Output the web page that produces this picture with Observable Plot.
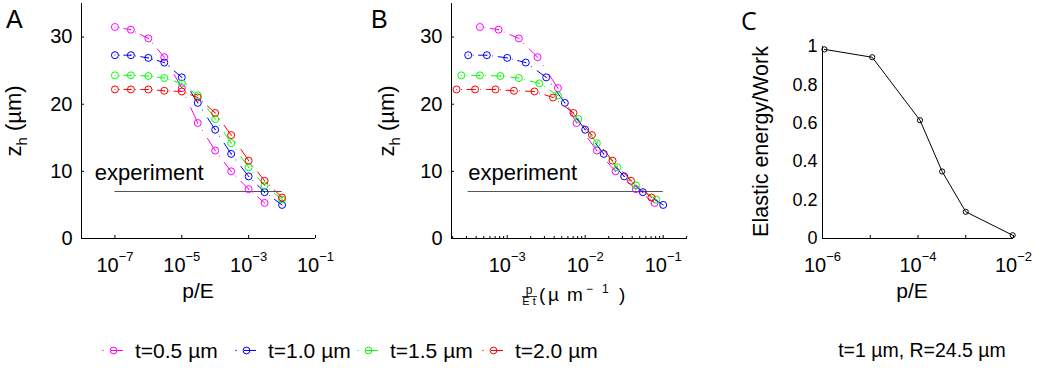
<!DOCTYPE html>
<html><head><meta charset="utf-8">
<script src="https://cdn.jsdelivr.net/npm/d3@7"></script>
<script src="https://cdn.jsdelivr.net/npm/@observablehq/plot@0.6"></script>
<style>
html,body{margin:0;padding:0;background:#fff;}
#root{position:relative;width:1043px;height:369px;overflow:hidden;font-family:"Liberation Sans",Arial,Helvetica,sans-serif;color:#000;background:#fff;}
.panel{position:absolute;top:0;}
</style></head><body><div id="root"></div>
<script>
// ---------------- data ----------------
const seriesLabels = ["t=0.5 µm", "t=1.0 µm", "t=1.5 µm", "t=2.0 µm"];
const seriesColors = ["#ff00ff", "#0000ff", "#00ff00", "#ff0000"];

// Panel A: p/E
const pOverE = [1e-7, 3e-7, 1e-6, 3e-6, 1e-5, 3e-5, 1e-4, 3e-4, 1e-3, 3e-3, 1e-2];
// z_h (µm) per thickness
const zh_t05 = [31.5, 31.1, 29.8, 27.0, 22.4, 17.2, 13.1, 10.0, 7.35, 5.3];
const zh_t10 = [27.3, 27.3, 26.9, 26.2, 24.0, 20.2, 16.2, 12.6, 9.25, 6.9, 5.0];
const zh_t15 = [24.3, 24.3, 24.2, 23.9, 23.1, 21.3, 17.8, 14.2, 10.6, 7.9, 5.8];
const zh_t20 = [22.2, 22.2, 22.2, 22.0, 21.9, 21.0, 18.7, 15.4, 11.6, 8.6, 6.1];

// Panel B: rescaled abscissa per thickness
const xB_t05 = [4.47e-4, 7.75e-4, 1.41e-3, 2.45e-3, 4.47e-3, 7.75e-3, 1.41e-2, 2.45e-2, 4.47e-2, 7.75e-2];
const xB_t10 = [3.16e-4, 5.48e-4, 1.0e-3, 1.73e-3, 3.16e-3, 5.48e-3, 1.0e-2, 1.73e-2, 3.16e-2, 5.48e-2, 1.0e-1];
const xB_t15 = [2.58e-4, 4.47e-4, 8.16e-4, 1.41e-3, 2.58e-3, 4.47e-3, 8.16e-3, 1.41e-2, 2.58e-2, 4.47e-2, 8.16e-2];
const xB_t20 = [2.24e-4, 3.87e-4, 7.07e-4, 1.22e-3, 2.24e-3, 3.87e-3, 7.07e-3, 1.22e-2, 2.24e-2, 3.87e-2, 7.07e-2];

// experiment level
const experimentZ = [7];
const experimentRangeA = [1e-7, 1e-2];
const experimentRangeB = [3.16e-4, 1e-1];

// Panel C
const pOverE_C = [1.1e-6, 1.1e-5, 1.1e-4, 3.2e-4, 1.0e-3, 9.6e-3];
const energyRatio = [0.985, 0.944, 0.616, 0.349, 0.139, 0.017];

// axes / ticks
const yDomainAB = [0, 35];
const yTicksAB = [0, 10, 20, 30];
const xDomainA = [1e-8, 1e-1];
const xTicksA = [1e-7, 1e-5, 1e-3, 1e-1];
const xDomainB = [1.93e-4, 2.05e-1];
const xTicksB = [1e-3, 1e-2, 1e-1];
const xDomainC = [1e-6, 1e-2];
const xTicksC = [1e-6, 1e-5, 1e-4, 1e-3, 1e-2];
const xTickLabelsC = [1e-6, 1e-4, 1e-2];
const yDomainC = [0, 1];
const yTicksC = [0, 0.2, 0.4, 0.6, 0.8, 1];
const captionText = "t=1 µm, R=24.5 µm";

// ---------------- helpers ----------------
const FONT = '"Liberation Sans", Arial, Helvetica, sans-serif';
const TICK_FS = 20;
const root = document.getElementById("root");

function pts(xs, ys) { return ys.map((y, i) => ({x: xs[i], y})); }
function segs(p) { return p.slice(1).map((q, i) => ({x1: p[i].x, y1: p[i].y, x2: q.x, y2: q.y})); }

const seriesA = [zh_t05, zh_t10, zh_t15, zh_t20].map(ys => pts(pOverE, ys));
const seriesB = [[xB_t05, zh_t05], [xB_t10, zh_t10], [xB_t15, zh_t15], [xB_t20, zh_t20]].map(([xs, ys]) => pts(xs, ys));

function supFormat(d) { return "10^" + Math.round(Math.log10(d)); }

function applySup(svg) {
  d3.select(svg).selectAll("text").each(function () {
    const m = /^10\^(-?\d+)$/.exec(this.textContent);
    if (!m) return;
    const el = d3.select(this);
    el.text(null);
    el.append("tspan").text("10");
    el.append("tspan").attr("dy", -11).attr("font-size", 13).text(m[1].replace("-", "\u2212"));
  });
}

function dashLinks(svg) {
  d3.select(svg).selectAll('g[aria-label="link"] path, g[aria-label="link"] line')
    .attr("pathLength", 100)
    .attr("stroke-dasharray", "0 27 0 29 44")
    .attr("stroke-linecap", "round");
}

function addText(svg, {x, y, text, size = 20, anchor = "start", rotate = 0, family = FONT}) {
  const t = d3.select(svg).append("text")
    .attr("transform", `translate(${x},${y})` + (rotate ? ` rotate(${rotate})` : ""))
    .attr("text-anchor", anchor)
    .attr("font-family", family)
    .attr("font-size", size)
    .attr("fill", "#000");
  if (text != null) t.text(text);
  return t;
}

function place(svg, left) {
  const div = document.createElement("div");
  div.className = "panel";
  div.style.left = left + "px";
  div.appendChild(svg);
  root.appendChild(div);
}

function zhPanel({width, marginLeft, marginRight, xDomain, xTicks, minorTicks, series, expRange, expTextX}) {
  const marks = [
    Plot.ruleY([yDomainAB[0]], {stroke: "#000", strokeWidth: 1}),
    Plot.ruleX([xDomain[0]], {stroke: "#000", strokeWidth: 1}),
    Plot.axisY({ticks: yTicksAB, tickSize: 3, dx: 3, tickFormat: () => "", label: null}),
    Plot.axisY({ticks: yTicksAB, tickSize: 0, tickPadding: 9, fontSize: TICK_FS, label: null}),
    Plot.axisX({ticks: xTicks, tickSize: 3, dy: -3, tickFormat: () => "", label: null}),
    Plot.axisX({ticks: xTicks, tickSize: 0, tickPadding: 19, fontSize: TICK_FS, tickFormat: supFormat, label: null})
  ];
  if (minorTicks) marks.push(Plot.axisX({ticks: minorTicks, tickSize: 2, dy: -2, tickFormat: () => "", label: null}));
  marks.push(
    Plot.ruleY(experimentZ, {x1: expRange[0], x2: expRange[1], stroke: "#555", strokeWidth: 1.2}),
    Plot.text(["experiment"], {x: expTextX, y: 9.8, text: d => d, textAnchor: "start", lineAnchor: "middle", fontSize: 22, fill: "#000"})
  );
  series.forEach((p, k) => {
    marks.push(Plot.link(segs(p), {x1: "x1", y1: "y1", x2: "x2", y2: "y2", stroke: seriesColors[k], strokeWidth: 1}));
    marks.push(Plot.dot(p, {x: "x", y: "y", r: 3.5, stroke: seriesColors[k], fill: "none", strokeWidth: 1}));
  });
  const svg = Plot.plot({
    width, height: 310,
    marginLeft, marginRight, marginTop: 3, marginBottom: 72,
    x: {type: "log", domain: xDomain},
    y: {domain: yDomainAB},
    style: {fontFamily: FONT, fontSize: TICK_FS + "px", background: "transparent", color: "#000", overflow: "visible"},
    marks
  });
  applySup(svg);
  dashLinks(svg);
  return svg;
}

function zLabel(svg, x, y) {
  const t = addText(svg, {x, y, size: 22, anchor: "middle", rotate: -90});
  t.append("tspan").text("z");
  t.append("tspan").attr("font-size", 15).attr("dy", 6).text("h");
  t.append("tspan").attr("dy", -6).text(" (µm)");
}

// ---------------- Panel A ----------------
const svgA = zhPanel({width: 340, marginLeft: 81, marginRight: 25, xDomain: xDomainA, xTicks: xTicksA,
  series: seriesA, expRange: experimentRangeA, expTextX: 2.5e-8});
addText(svgA, {x: 6, y: 28, text: "A", size: 25});
zLabel(svgA, 21, 121);
addText(svgA, {x: 198, y: 298, text: "p/E", size: 21, anchor: "middle"});
place(svgA, 0);

// ---------------- Panel B ----------------
const minorB = [];
for (let e = -4; e <= -1; e++) for (let m = 1; m <= 9; m++) {
  const v = m * Math.pow(10, e);
  if (v >= xDomainB[0] && v <= xDomainB[1] && m !== 1) minorB.push(v);
}
const svgB = zhPanel({width: 360, marginLeft: 111, marginRight: 13, xDomain: xDomainB, xTicks: xTicksB, minorTicks: minorB,
  series: seriesB, expRange: experimentRangeB, expTextX: 3.16e-4});
addText(svgB, {x: 31, y: 28, text: "B", size: 25});
zLabel(svgB, 54, 121);
// x label: p/(E t) ( µ m^-1 )
addText(svgB, {x: 189, y: 294, text: "p", size: 12, anchor: "middle"});
d3.select(svgB).append("line").attr("x1", 182).attr("x2", 197).attr("y1", 296.5).attr("y2", 296.5).attr("stroke", "#000").attr("stroke-width", 0.8);
addText(svgB, {x: 189, y: 305, text: "E t", size: 11, anchor: "middle"});
addText(svgB, {x: 199, y: 301, text: "(", size: 19});
addText(svgB, {x: 208, y: 301, text: "µ", size: 19});
addText(svgB, {x: 227, y: 301, text: "m", size: 19});
addText(svgB, {x: 246, y: 293, text: "\u2212", size: 12});
addText(svgB, {x: 262, y: 293, text: "1", size: 12});
addText(svgB, {x: 279, y: 301, text: ")", size: 19});
place(svgB, 340);

// ---------------- Panel C ----------------
const cPts = pts(pOverE_C, energyRatio);
const svgC = Plot.plot({
  width: 343, height: 310,
  marginLeft: 122, marginRight: 30, marginTop: 46, marginBottom: 72,
  x: {type: "log", domain: xDomainC},
  y: {domain: yDomainC},
  style: {fontFamily: FONT, fontSize: "18px", background: "transparent", color: "#000", overflow: "visible"},
  marks: [
    Plot.ruleY([yDomainC[0]], {stroke: "#000", strokeWidth: 1}),
    Plot.ruleX([xDomainC[0]], {stroke: "#000", strokeWidth: 1}),
    Plot.axisY({ticks: yTicksC, tickSize: 0, tickPadding: 5, fontSize: 18, label: null, tickFormat: d => String(d)}),
    Plot.axisX({ticks: xTicksC, tickSize: 3, dy: -3, tickFormat: () => "", label: null}),
    Plot.axisX({ticks: xTickLabelsC, tickSize: 0, tickPadding: 19, fontSize: TICK_FS, tickFormat: supFormat, label: null}),
    Plot.line(cPts, {x: "x", y: "y", stroke: "#000", strokeWidth: 1}),
    Plot.dot(cPts, {x: "x", y: "y", r: 2.6, stroke: "#000", fill: "none", strokeWidth: 1})
  ]
});
applySup(svgC);
addText(svgC, {x: 41, y: 30, text: "C", size: 25, family: '"Open Sans", sans-serif'});
addText(svgC, {x: 68, y: 141.5, text: "Elastic energy/Work", size: 21.5, anchor: "middle", rotate: -90});
addText(svgC, {x: 212, y: 298, text: "p/E", size: 21, anchor: "middle"});
place(svgC, 700);

// ---------------- Legend ----------------
const legendX = [103, 236, 358, 483];
const leg = d3.select(root).append("svg")
  .attr("width", 1043).attr("height", 39)
  .style("position", "absolute").style("left", "0px").style("top", "330px");
seriesLabels.forEach((lab, k) => {
  const x0 = legendX[k], cy = 20.5, col = seriesColors[k];
  leg.append("circle").attr("cx", x0).attr("cy", cy).attr("r", 0.7).attr("fill", col);
  leg.append("line").attr("x1", x0 + 8).attr("x2", x0 + 20).attr("y1", cy).attr("y2", cy).attr("stroke", col).attr("stroke-width", 1);
  leg.append("circle").attr("cx", x0 + 10.5).attr("cy", cy).attr("r", 3.4).attr("fill", "none").attr("stroke", col).attr("stroke-width", 1);
  leg.append("text").attr("x", x0 + 32).attr("y", 28).attr("font-family", FONT).attr("font-size", 21).attr("fill", "#000").text(lab);
});
// caption
leg.append("text").attr("x", 922).attr("y", 27).attr("text-anchor", "middle").attr("font-family", FONT).attr("font-size", 19.5).attr("fill", "#000").text(captionText);
</script>
</body></html>
